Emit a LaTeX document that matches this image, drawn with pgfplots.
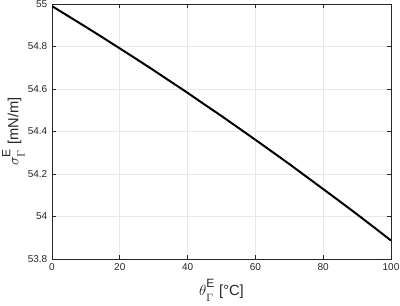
\documentclass[border=0pt]{standalone}
\usepackage{fontspec}
\setmainfont{Liberation Sans}
\usepackage{pgfplots}
\pgfplotsset{compat=1.18}
\definecolor{axgray}{gray}{0.15}
\definecolor{gridgray}{gray}{0.91}
\newcommand{\supE}{\raisebox{2pt}{\fontsize{9}{10}\selectfont E}}
\newcommand{\subG}{\raisebox{-2pt}{$\scriptstyle\Gamma$}}
\begin{document}
\begin{tikzpicture}
\begin{axis}[
  name=ax,
  at={(0,0)}, anchor=south west,
  scale only axis,
  width=254.25pt, height=191.25pt,
  xmin=0, xmax=100, ymin=53.8, ymax=55,
  xtick={0,20,40,60,80,100},
  ytick={53.8,54,54.2,54.4,54.6,54.8,55},
  tick align=inside,
  tick pos=both,
  major tick length=3pt,
  grid=major,
  major grid style={gridgray, line width=0.5pt},
  axis line style={axgray, line width=0.5pt},
  every tick/.style={axgray, line width=0.5pt},
  tick label style={font=\fontsize{7.5}{9}\selectfont, text=axgray},
  /pgf/number format/assume math mode=true,
  yticklabel style={/pgf/number format/fixed},
  xlabel={\fontsize{11}{13}\selectfont$\theta_{\subG}^{\supE}$ [°C]},
  ylabel={\fontsize{11}{13}\selectfont$\sigma_{\subG}^{\supE}$ [mN/m]},
  label style={text=axgray},
  xlabel style={yshift=0.5pt},
  ylabel style={yshift=-4.5pt},
]
\addplot[black, line width=1.5pt] coordinates {
(0,54.990) (5,54.941) (10,54.892) (15,54.842) (20,54.791) (25,54.740)
(30,54.688) (35,54.635) (40,54.582) (45,54.527) (50,54.473) (55,54.417)
(60,54.361) (65,54.304) (70,54.247) (75,54.188) (80,54.129) (85,54.070)
(90,54.010) (95,53.949) (100,53.887)
};
\end{axis}
\pgfresetboundingbox
\path[use as bounding box] (-39pt,-34.5pt) rectangle (261pt,194.25pt);
\end{tikzpicture}
\end{document}
